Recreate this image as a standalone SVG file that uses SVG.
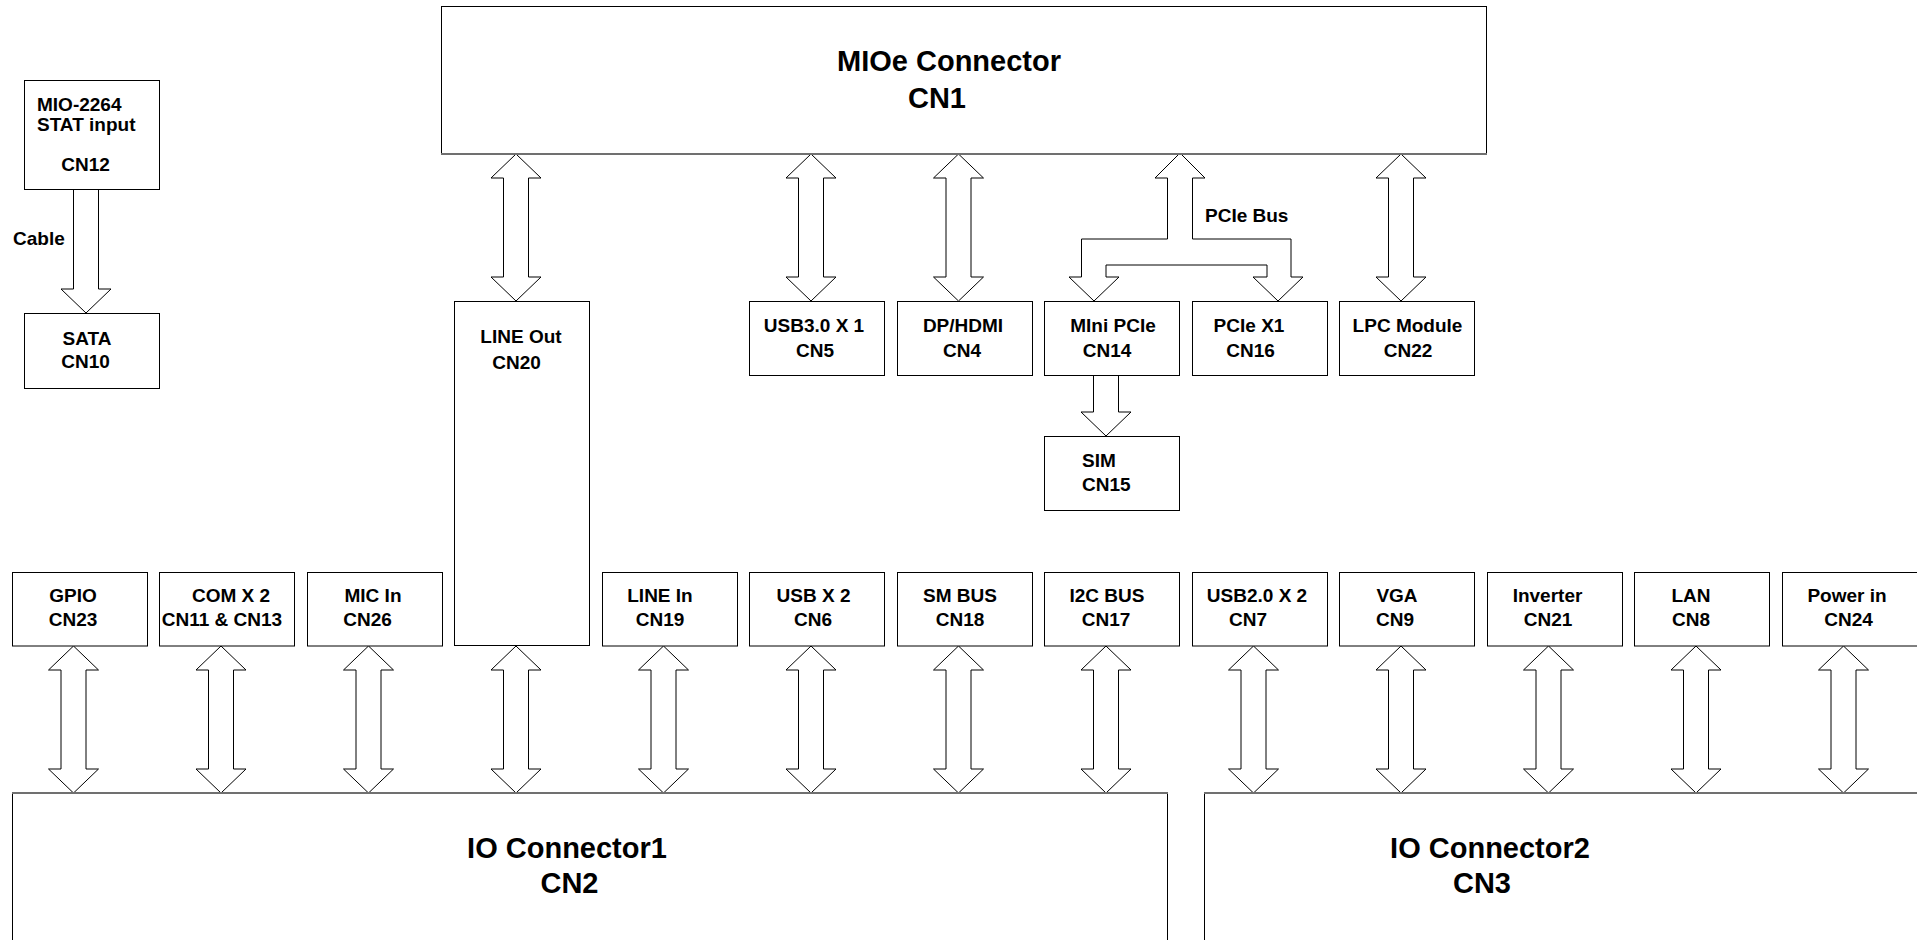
<svg xmlns="http://www.w3.org/2000/svg" xmlns:xlink="http://www.w3.org/1999/xlink" width="1917" height="940" viewBox="0 0 1917 940">
<style>
.box{fill:#fff;stroke:#000;stroke-width:1}
.edge{stroke:#707070;stroke-width:2;fill:none}
.arr{fill:#fff;stroke:#000;stroke-width:1;stroke-linejoin:miter}
text{font-family:"Liberation Sans",Arial,sans-serif;font-weight:bold;fill:#000}
.t{font-size:19px;text-anchor:middle}
.ts{font-size:19px;text-anchor:start}
.big{font-size:29px;text-anchor:middle}
</style>
<defs>
<polygon id="dbl" class="arr" points="0,0 25,24 12.5,24 12.5,123 25,123 0,147 -25,123 -12.5,123 -12.5,24 -25,24"/>
</defs>
<rect width="1917" height="940" fill="#fff"/>

<g id="connectors">
<!-- top arrows from MIOe -->
<use xlink:href="#dbl" href="#dbl" x="516" y="154"/>
<use xlink:href="#dbl" href="#dbl" x="811" y="154"/>
<use xlink:href="#dbl" href="#dbl" x="958.5" y="154"/>
<use xlink:href="#dbl" href="#dbl" x="1401" y="154"/>
<!-- PCIe bus split -->
<polygon class="arr" points="1180,153 1205,178 1192.5,178 1192.5,239 1291,239 1291,277 1303,277 1278,301 1253,277 1267,277 1267,265 1106,265 1106,277 1119,277 1094,301 1069,277 1081.5,277 1081.5,239 1167.5,239 1167.5,178 1155,178"/>
<!-- Cable arrow -->
<polygon class="arr" points="73.5,189 98.5,189 98.5,289 111,289 86,313 61,289 73.5,289"/>
<!-- SIM arrow -->
<polygon class="arr" points="1093.5,375 1118.5,375 1118.5,412 1131,412 1106,436 1081,412 1093.5,412"/>
<!-- bottom arrows to IO connectors -->
<use xlink:href="#dbl" href="#dbl" x="73.5" y="646"/>
<use xlink:href="#dbl" href="#dbl" x="221" y="646"/>
<use xlink:href="#dbl" href="#dbl" x="368.5" y="646"/>
<use xlink:href="#dbl" href="#dbl" x="516" y="646"/>
<use xlink:href="#dbl" href="#dbl" x="663.5" y="646"/>
<use xlink:href="#dbl" href="#dbl" x="811" y="646"/>
<use xlink:href="#dbl" href="#dbl" x="958.5" y="646"/>
<use xlink:href="#dbl" href="#dbl" x="1106" y="646"/>
<use xlink:href="#dbl" href="#dbl" x="1253.5" y="646"/>
<use xlink:href="#dbl" href="#dbl" x="1401" y="646"/>
<use xlink:href="#dbl" href="#dbl" x="1548.5" y="646"/>
<use xlink:href="#dbl" href="#dbl" x="1696" y="646"/>
<use xlink:href="#dbl" href="#dbl" x="1843.5" y="646"/>
<text class="ts" x="13" y="245">Cable</text>
<text class="ts" x="1205" y="221.5">PCIe Bus</text>
</g>

<g id="cn1">
<rect class="box" x="441.5" y="6.5" width="1045" height="147"/>
<line class="edge" x1="441" y1="154" x2="1487" y2="154"/>
<text class="big" x="949" y="71">MIOe Connector</text>
<text class="big" x="937" y="107.5">CN1</text>
</g>

<g id="cn12">
<rect class="box" x="24.5" y="80.5" width="135" height="109"/>
<text class="ts" x="37" y="111">MIO-2264</text>
<text class="ts" x="37" y="131">STAT input</text>
<text class="t" x="85.5" y="171">CN12</text>
</g>

<g id="cn10">
<rect class="box" x="24.5" y="313.5" width="135" height="75"/>
<text class="t" x="87" y="345">SATA</text>
<text class="t" x="85.5" y="368">CN10</text>
</g>

<g id="cn20">
<rect class="box" x="454.5" y="301.5" width="135" height="344"/>
<text class="t" x="521" y="343">LINE Out</text>
<text class="t" x="516.5" y="369">CN20</text>
</g>

<g id="cn5">
<rect class="box" x="749.5" y="301.5" width="135" height="74"/>
<text class="t" x="814" y="332">USB3.0 X 1</text>
<text class="t" x="815" y="357">CN5</text>
</g>

<g id="cn4">
<rect class="box" x="897.5" y="301.5" width="135" height="74"/>
<text class="t" x="963" y="332">DP/HDMI</text>
<text class="t" x="962" y="357">CN4</text>
</g>

<g id="cn14">
<rect class="box" x="1044.5" y="301.5" width="135" height="74"/>
<text class="t" x="1113" y="332">MIni PCIe</text>
<text class="t" x="1107" y="357">CN14</text>
</g>

<g id="cn16">
<rect class="box" x="1192.5" y="301.5" width="135" height="74"/>
<text class="t" x="1249" y="332">PCIe X1</text>
<text class="t" x="1250.5" y="357">CN16</text>
</g>

<g id="cn22">
<rect class="box" x="1339.5" y="301.5" width="135" height="74"/>
<text class="t" x="1407.5" y="332">LPC Module</text>
<text class="t" x="1408" y="357">CN22</text>
</g>

<g id="cn15">
<rect class="box" x="1044.5" y="436.5" width="135" height="74"/>
<text class="ts" x="1082" y="467">SIM</text>
<text class="ts" x="1082" y="491">CN15</text>
</g>

<g id="cn23">
<rect class="box" x="12.5" y="572.5" width="135" height="73.5"/>
<text class="t" x="73" y="602">GPIO</text>
<text class="t" x="73" y="626">CN23</text>
</g>

<g id="cn11-13">
<rect class="box" x="159.5" y="572.5" width="135" height="73.5"/>
<text class="t" x="231" y="602">COM X 2</text>
<text class="t" x="222" y="626">CN11 &amp; CN13</text>
</g>

<g id="cn26">
<rect class="box" x="307.5" y="572.5" width="135" height="73.5"/>
<text class="t" x="373" y="602">MIC In</text>
<text class="t" x="367.5" y="626">CN26</text>
</g>

<g id="cn19">
<rect class="box" x="602.5" y="572.5" width="135" height="73.5"/>
<text class="t" x="660" y="602">LINE In</text>
<text class="t" x="660" y="626">CN19</text>
</g>

<g id="cn6">
<rect class="box" x="749.5" y="572.5" width="135" height="73.5"/>
<text class="t" x="813.5" y="602">USB X 2</text>
<text class="t" x="813" y="626">CN6</text>
</g>

<g id="cn18">
<rect class="box" x="897.5" y="572.5" width="135" height="73.5"/>
<text class="t" x="960" y="602">SM BUS</text>
<text class="t" x="960" y="626">CN18</text>
</g>

<g id="cn17">
<rect class="box" x="1044.5" y="572.5" width="135" height="73.5"/>
<text class="t" x="1107" y="602">I2C BUS</text>
<text class="t" x="1106" y="626">CN17</text>
</g>

<g id="cn7">
<rect class="box" x="1192.5" y="572.5" width="135" height="73.5"/>
<text class="t" x="1257" y="602">USB2.0 X 2</text>
<text class="t" x="1248" y="626">CN7</text>
</g>

<g id="cn9">
<rect class="box" x="1339.5" y="572.5" width="135" height="73.5"/>
<text class="t" x="1397" y="602">VGA</text>
<text class="t" x="1395" y="626">CN9</text>
</g>

<g id="cn21">
<rect class="box" x="1487.5" y="572.5" width="135" height="73.5"/>
<text class="t" x="1547.5" y="602">Inverter</text>
<text class="t" x="1548" y="626">CN21</text>
</g>

<g id="cn8">
<rect class="box" x="1634.5" y="572.5" width="135" height="73.5"/>
<text class="t" x="1691" y="602">LAN</text>
<text class="t" x="1691" y="626">CN8</text>
</g>

<g id="cn24">
<rect class="box" x="1782.5" y="572.5" width="140" height="73.5"/>
<text class="t" x="1847" y="602">Power in</text>
<text class="t" x="1848.5" y="626">CN24</text>
</g>

<g id="cn2">
<rect class="box" x="12.5" y="793.5" width="1155" height="200"/>
<line class="edge" x1="12" y1="793" x2="1168" y2="793"/>
<text class="big" x="567" y="858">IO Connector1</text>
<text class="big" x="569.5" y="893">CN2</text>
</g>

<g id="cn3">
<rect class="box" x="1204.5" y="793.5" width="800" height="200"/>
<line class="edge" x1="1204" y1="793" x2="1917" y2="793"/>
<text class="big" x="1490" y="858">IO Connector2</text>
<text class="big" x="1482" y="893">CN3</text>
</g>
</svg>
